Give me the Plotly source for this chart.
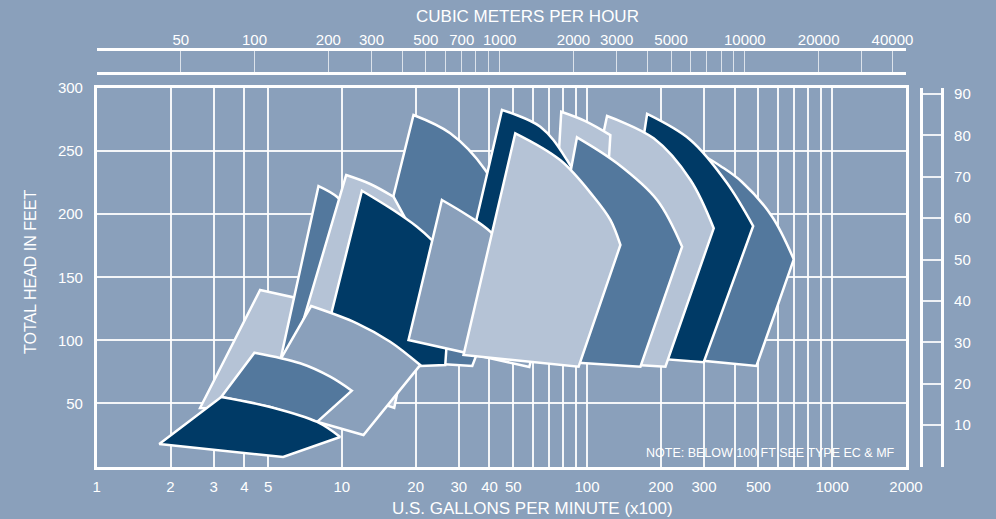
import math
import plotly.graph_objects as go

# ---- colours -------------------------------------------------------------
BG = "#8aa0bb"
DARK = "#003a66"
MED = "#53789d"
LIGHT = "#b5c3d6"
WHITE = "#ffffff"
FONT = "Liberation Sans, Arial, Helvetica, sans-serif"

# ---- axis ticks ----------------------------------------------------------
gpm_grid = [1, 2, 3, 4, 5, 10, 20, 30, 40, 50, 60, 70, 80, 90,
            100, 200, 300, 400, 500, 600, 700, 800, 900, 1000, 2000]
gpm_labels = [1, 2, 3, 4, 5, 10, 20, 30, 40, 50, 100, 200, 300, 500, 1000, 2000]
head_ticks = [50, 100, 150, 200, 250, 300]
meter_ticks = [10, 20, 30, 40, 50, 60, 70, 80, 90]
cmh_grid = [50, 100, 200, 300, 400, 500, 600, 700, 800, 900, 1000,
            2000, 3000, 4000, 5000, 6000, 7000, 8000, 9000, 10000,
            20000, 30000, 40000]
cmh_labels = [50, 100, 200, 300, 500, 700, 1000, 2000, 3000, 5000,
              10000, 20000, 40000]

GPM_MAX = 2000          # x100 US gpm
HEAD_MAX = 300          # feet
FT_PER_M = 3.28084
GPM100_PER_CMH = 4.402868 / 100.0

# ---- pump coverage envelopes (flow in US gpm x100, head in ft) -----------
# outline runs along the curved top edge first (first *_arc points),
# then down the straight sides and along the bottom.
P_gpm = [251.8, 349.9, 427.6, 569.0, 697.0, 491.0, 276.7]
P_head = [254.8, 238.2, 225.7, 198.0, 164.2, 79.7, 84.4]
P_arc = 5

O_gpm = [175.8, 264.1, 372.8, 476.1, 299.2, 124.5]
O_head = [279.4, 258.8, 224.5, 190.6, 82.6, 88.4]
O_arc = 4

N_gpm = [120.7, 187.0, 264.1, 328.6, 208.8, 74.2]
N_head = [277.8, 260.1, 227.1, 188.8, 79.1, 84.4]
N_arc = 4

M_gpm = [78.5, 98.4, 124.5, 113.3, 70.8]
M_head = [281.2, 273.8, 262.7, 132.0, 132.0]
M_arc = 3

H_gpm = [19.60, 27.67, 38.45, 53.42, 34.03, 25.18, 11.88]
H_head = [278.6, 264.1, 235.0, 179.5, 79.7, 81.2, 108.2]
H_arc = 4

J_gpm = [44.99, 64.48, 82.86, 118.8, 89.6, 26.91]
J_head = [282.6, 269.3, 242.9, 183.5, 82.8, 96.3]
J_arc = 4

L_gpm = [91.0, 132.6, 193.1, 244.2, 165.1, 61.5]
L_head = [260.9, 240.3, 211.2, 174.2, 79.1, 84.4]
L_arc = 4

C_gpm = [4.64, 6.51, 7.08, 6.15, 2.64]
C_head = [139.9, 133.6, 116.1, 44.8, 46.4]
C_arc = 2

D_gpm = [8.03, 9.60, 10.81, 8.31, 5.50]
D_head = [222.3, 213.4, 199.3, 64.6, 76.5]
D_arc = 3

E_gpm = [10.41, 13.05, 16.24, 21.88, 16.35, 6.04]
E_head = [231.0, 223.9, 213.8, 167.6, 46.4, 74.9]
E_arc = 3

F_gpm = [12.07, 16.20, 20.24, 23.30, 28.19, 26.41, 20.87, 8.96]
F_head = [218.6, 203.3, 190.1, 179.5, 162.1, 80.4, 79.7, 117.7]
F_arc = 5

I_gpm = [25.59, 32.37, 40.30, 67.6, 58.15, 18.70]
I_head = [211.2, 199.3, 186.1, 132.0, 78.9, 100.3]
I_arc = 4

K_gpm = [50.97, 77.7, 106.4, 124.5, 136.8, 92.4, 31.35]
K_head = [264.1, 242.9, 213.8, 195.4, 175.6, 79.1, 88.4]
K_arc = 5

G_gpm = [7.49, 11.52, 15.74, 20.87, 12.25, 7.91, 5.60, 4.64]
G_head = [127.2, 113.5, 98.9, 80.4, 25.0, 35.5, 44.0, 56.7]
G_arc = 4

B_gpm = [4.40, 6.76, 8.96, 10.98, 7.93, 5.10, 3.22]
B_head = [90.2, 81.8, 71.2, 60.1, 35.3, 47.2, 55.1]
B_arc = 4

A_gpm = [3.22, 5.10, 7.93, 9.84, 5.76, 1.80]
A_head = [55.1, 47.2, 35.3, 23.4, 7.5, 17.8]
A_arc = 4

# back-to-front drawing order with fill colour
envelopes = [
    (P_gpm, P_head, P_arc, MED),
    (O_gpm, O_head, O_arc, DARK),
    (N_gpm, N_head, N_arc, LIGHT),
    (M_gpm, M_head, M_arc, LIGHT),
    (H_gpm, H_head, H_arc, MED),
    (J_gpm, J_head, J_arc, DARK),
    (L_gpm, L_head, L_arc, MED),
    (C_gpm, C_head, C_arc, LIGHT),
    (D_gpm, D_head, D_arc, MED),
    (E_gpm, E_head, E_arc, LIGHT),
    (F_gpm, F_head, F_arc, DARK),
    (I_gpm, I_head, I_arc, BG),
    (K_gpm, K_head, K_arc, LIGHT),
    (G_gpm, G_head, G_arc, BG),
    (B_gpm, B_head, B_arc, MED),
    (A_gpm, A_head, A_arc, DARK),
]


def closed_outline(xs, ys, n_arc):
    """Closed path; corner vertices are doubled so the spline keeps them sharp."""
    px, py = [], []
    for i, (x, y) in enumerate(zip(xs, ys)):
        px.append(x)
        py.append(y)
        if i == 0 or i >= n_arc - 1:
            px.append(x)
            py.append(y)
    px += [xs[0], xs[0]]
    py += [ys[0], ys[0]]
    return px, py


fig = go.Figure()
for xs, ys, n_arc, colour in envelopes:
    px, py = closed_outline(xs, ys, n_arc)
    fig.add_trace(go.Scatter(
        x=px, y=py, mode="lines", fill="toself", fillcolor=colour,
        line=dict(color=WHITE, width=2.5, shape="spline", smoothing=1,
                  simplify=False),
        hoverinfo="skip", showlegend=False, xaxis="x", yaxis="y"))

# invisible traces so the ladder and the top scale get their own axes
fig.add_trace(go.Scatter(x=[0.5], y=[0], mode="markers", marker=dict(opacity=0),
                         hoverinfo="skip", showlegend=False, xaxis="x2", yaxis="y2"))
fig.add_trace(go.Scatter(x=[100], y=[0.5], mode="markers", marker=dict(opacity=0),
                         hoverinfo="skip", showlegend=False, xaxis="x3", yaxis="y3"))

W, H = 996, 519
plot_l, plot_r, plot_t, plot_b = 96.7, 906.0, 88.0, 466.5
band_t, band_b = 51.0, 71.7
lad_l, lad_r = 922.7, 941.3


def fx(px):
    return px / W


def fy(py):
    return (H - py) / H


tick_font = dict(family=FONT, size=15, color=WHITE)
title_font = dict(family=FONT, size=17, color=WHITE)

log_lo = math.log10(1.0)
log_hi = math.log10(GPM_MAX)
cmh_lo = log_lo - math.log10(GPM100_PER_CMH)
cmh_hi = log_hi - math.log10(GPM100_PER_CMH)

fig.update_layout(
    width=W, height=H,
    margin=dict(l=0, r=0, t=0, b=0),
    paper_bgcolor=BG, plot_bgcolor=BG,
    template="none",
    showlegend=False,
    xaxis=dict(
        type="log", range=[log_lo, log_hi],
        domain=[fx(plot_l), fx(plot_r)], anchor="y",
        showline=True, mirror=True, linecolor=WHITE, linewidth=2.5,
        showgrid=True, gridcolor="rgba(255,255,255,0.9)", gridwidth=1.5,
        tickmode="array", tickvals=gpm_grid,
        ticktext=[str(v) if v in gpm_labels else "" for v in gpm_grid],
        ticks="", tickfont=tick_font, zeroline=False, automargin=False,
        ticklabelstandoff=5,
    ),
    yaxis=dict(
        range=[0, HEAD_MAX], domain=[fy(plot_b), fy(plot_t)], anchor="x",
        showline=True, mirror=True, linecolor=WHITE, linewidth=2.5,
        showgrid=True, gridcolor="rgba(255,255,255,0.9)", gridwidth=1.5,
        tickmode="array", tickvals=head_ticks,
        ticks="", tickfont=tick_font, zeroline=False, automargin=False,
        ticklabelstandoff=8,
    ),
    xaxis2=dict(
        range=[0, 1], domain=[fx(lad_l), fx(lad_r)], anchor="y2",
        showline=False, showgrid=False, showticklabels=False, ticks="",
        zeroline=False, automargin=False,
    ),
    yaxis2=dict(
        range=[0, HEAD_MAX / FT_PER_M], domain=[fy(plot_b), fy(plot_t)],
        anchor="x2", side="right",
        showline=True, mirror=True, linecolor=WHITE, linewidth=2.5,
        showgrid=True, gridcolor="rgba(255,255,255,0.85)", gridwidth=1.5,
        tickmode="array", tickvals=meter_ticks,
        ticks="", tickfont=tick_font, zeroline=False, automargin=False,
        ticklabelstandoff=7,
    ),
    xaxis3=dict(
        type="log", range=[cmh_lo, cmh_hi],
        domain=[fx(plot_l), fx(plot_r)], anchor="y3", side="top",
        showline=True, mirror=True, linecolor=WHITE, linewidth=3,
        showgrid=True, gridcolor="rgba(255,255,255,0.7)", gridwidth=1,
        tickmode="array", tickvals=cmh_grid,
        ticktext=[str(v) if v in cmh_labels else "" for v in cmh_grid],
        ticks="", tickfont=tick_font, zeroline=False, automargin=False,
        ticklabelstandoff=-3,
    ),
    yaxis3=dict(
        range=[0, 1], domain=[fy(band_b), fy(band_t)], anchor="x3",
        showline=False, showgrid=False, showticklabels=False, ticks="",
        zeroline=False, automargin=False,
    ),
    annotations=[
        dict(text="CUBIC METERS PER HOUR", x=fx(527), y=fy(17),
             xanchor="center", yanchor="middle",
             xref="paper", yref="paper", showarrow=False, font=title_font),
        dict(text="U.S. GALLONS PER MINUTE (x100)", x=fx(532), y=fy(508),
             xanchor="center", yanchor="middle",
             xref="paper", yref="paper", showarrow=False, font=title_font),
        dict(text="TOTAL HEAD IN FEET", x=fx(30), y=fy(272), textangle=-90,
             xanchor="center", yanchor="middle",
             xref="paper", yref="paper", showarrow=False,
             font=dict(family=FONT, size=16, color=WHITE)),
        dict(text="NOTE: BELOW 100 FT SEE TYPE EC &amp; MF", x=fx(897), y=fy(453),
             xanchor="right", yanchor="middle",
             xref="paper", yref="paper", showarrow=False,
             font=dict(family=FONT, size=12.5, color=WHITE)),
    ],
)

fig.write_html("out.html")
